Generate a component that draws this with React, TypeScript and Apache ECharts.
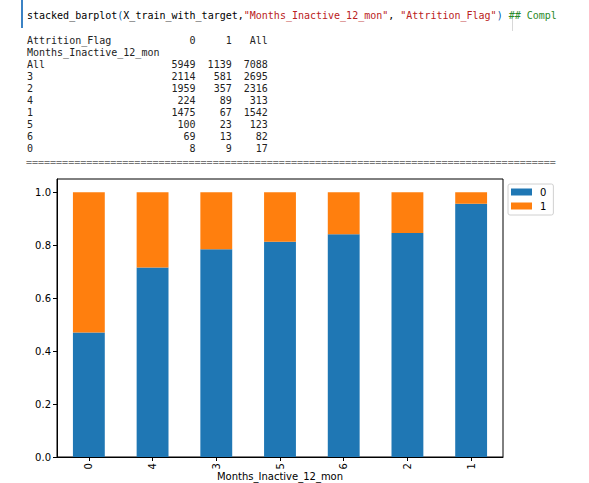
import React, { useEffect, useRef } from "react";
import * as echarts from "echarts";

// ---- data ----
const categories = ["0", "4", "3", "5", "6", "2", "1"];
const retained = [8, 224, 2114, 100, 69, 1959, 1475];
const attrited = [9, 89, 581, 23, 13, 357, 67];

const tableIndex = ["All", "3", "2", "4", "1", "5", "6", "0"];
const tableCol0 = [5949, 2114, 1959, 224, 1475, 100, 69, 8];
const tableCol1 = [1139, 581, 357, 89, 67, 23, 13, 9];
const tableColAll = [7088, 2695, 2316, 313, 1542, 123, 82, 17];

const yTicks = [0, 0.2, 0.4, 0.6, 0.8, 1.0];

const totals = retained.map((v, i) => v + attrited[i]);
const frac0 = retained.map((v, i) => v / totals[i]);
const frac1 = attrited.map((v, i) => v / totals[i]);

const mono = '"DejaVu Sans Mono", monospace';

function tableLines(): string[] {
  const w = 22;
  const lines: string[] = [];
  lines.push("Attrition_Flag".padEnd(w) + "0".padStart(6) + "1".padStart(6) + "All".padStart(6));
  lines.push("Months_Inactive_12_mon");
  tableIndex.forEach((k, i) => {
    lines.push(
      k.padEnd(w) +
        String(tableCol0[i]).padStart(6) +
        String(tableCol1[i]).padStart(6) +
        String(tableColAll[i]).padStart(6)
    );
  });
  return lines;
}

function Chart() {
  const ref = useRef<HTMLDivElement>(null);
  useEffect(() => {
    if (!ref.current) return;
    const chart = echarts.init(ref.current, null, { renderer: "svg" });
    const font = '"DejaVu Sans", sans-serif';
    chart.setOption({
      animation: false,
      backgroundColor: "#ffffff",
      grid: {
        left: 57,
        top: 9,
        width: 446,
        height: 278,
        outerBoundsMode: "none",
        containLabel: false,
        show: true,
        borderColor: "#000",
        borderWidth: 1,
        backgroundColor: "transparent",
      },
      legend: {
        orient: "vertical",
        left: 508,
        top: 14,
        icon: "rect",
        itemWidth: 21,
        itemHeight: 7,
        itemGap: 4,
        padding: [3, 7, 4, 3],
        borderColor: "#d0d0d0",
        borderWidth: 1,
        borderRadius: 2,
        textStyle: { fontFamily: font, fontSize: 10, color: "#000", padding: [0, 0, 0, 3] },
        data: ["0", "1"],
      },
      xAxis: {
        type: "category",
        data: categories,
        name: "Months_Inactive_12_mon",
        nameLocation: "middle",
        nameGap: 14,
        nameMoveOverlap: false,
        nameTextStyle: { fontFamily: font, fontSize: 10, color: "#000", verticalAlign: "top" },
        axisLine: { show: true, lineStyle: { color: "#000", width: 1 } },
        axisTick: { show: true, alignWithLabel: true, length: 4, lineStyle: { color: "#000" } },
        axisLabel: { rotate: 90, fontFamily: font, fontSize: 10, color: "#000", margin: 6 },
        splitLine: { show: false },
      },
      yAxis: {
        type: "value",
        min: 0,
        max: 1.05,
        interval: 0.2,
        axisLine: { show: true, lineStyle: { color: "#000", width: 1 } },
        axisTick: { show: true, length: 4, lineStyle: { color: "#000" }, customValues: yTicks },
        axisLabel: {
          fontFamily: font,
          fontSize: 10,
          color: "#000",
          margin: 6,
          customValues: yTicks,
          formatter: (v: number) => v.toFixed(1),
        },
        splitLine: { show: false },
      },
      series: [
        {
          name: "0",
          type: "bar",
          stack: "all",
          data: frac0,
          barCategoryGap: "50%",
          itemStyle: { color: "#1f77b4" },
        },
        {
          name: "1",
          type: "bar",
          stack: "all",
          data: frac1,
          barCategoryGap: "50%",
          itemStyle: { color: "#ff7f0e" },
        },
      ],
    });
    return () => chart.dispose();
  }, []);
  return (
    <div
      ref={ref}
      style={{ position: "absolute", left: 0, top: 170, width: 589, height: 313 }}
    />
  );
}

export default function App() {
  const lines = tableLines();
  return (
    <div
      style={{
        position: "fixed",
        left: 0,
        top: 0,
        width: 589,
        height: 483,
        background: "#fff",
        overflow: "hidden",
      }}
    >
      <div style={{ position: "absolute", left: 21, top: 0, width: 2, height: 28, background: "#3b82c4" }} />
      <div style={{ position: "absolute", left: 512, top: 19, width: 1, height: 12, background: "#d8d8d8" }} />
      <pre
        style={{
          position: "absolute",
          left: 27,
          top: 10,
          margin: 0,
          fontFamily: mono,
          fontSize: 10,
          lineHeight: "12px",
          color: "#000",
          whiteSpace: "pre",
        }}
      >
        <span>stacked_barplot</span>
        <span style={{ color: "#0055aa" }}>(</span>
        <span>X_train_with_target,</span>
        <span style={{ color: "#ba2121" }}>"Months_Inactive_12_mon"</span>
        <span>, </span>
        <span style={{ color: "#ba2121" }}>"Attrition_Flag"</span>
        <span style={{ color: "#0055aa" }}>)</span>
        <span> </span>
        <span style={{ color: "#2a8a2a" }}>## Compl</span>
      </pre>
      <pre
        style={{
          position: "absolute",
          left: 27,
          top: 35,
          margin: 0,
          fontFamily: mono,
          fontSize: 10,
          lineHeight: "12px",
          color: "#222",
          whiteSpace: "pre",
        }}
      >
        {lines.join("\n")}
      </pre>
      <pre
        style={{
          position: "absolute",
          left: 26,
          top: 157,
          margin: 0,
          fontFamily: mono,
          fontSize: 10,
          lineHeight: "12px",
          color: "#777",
          whiteSpace: "pre",
        }}
      >
        {"=".repeat(88)}
      </pre>
      <Chart />
    </div>
  );
}
